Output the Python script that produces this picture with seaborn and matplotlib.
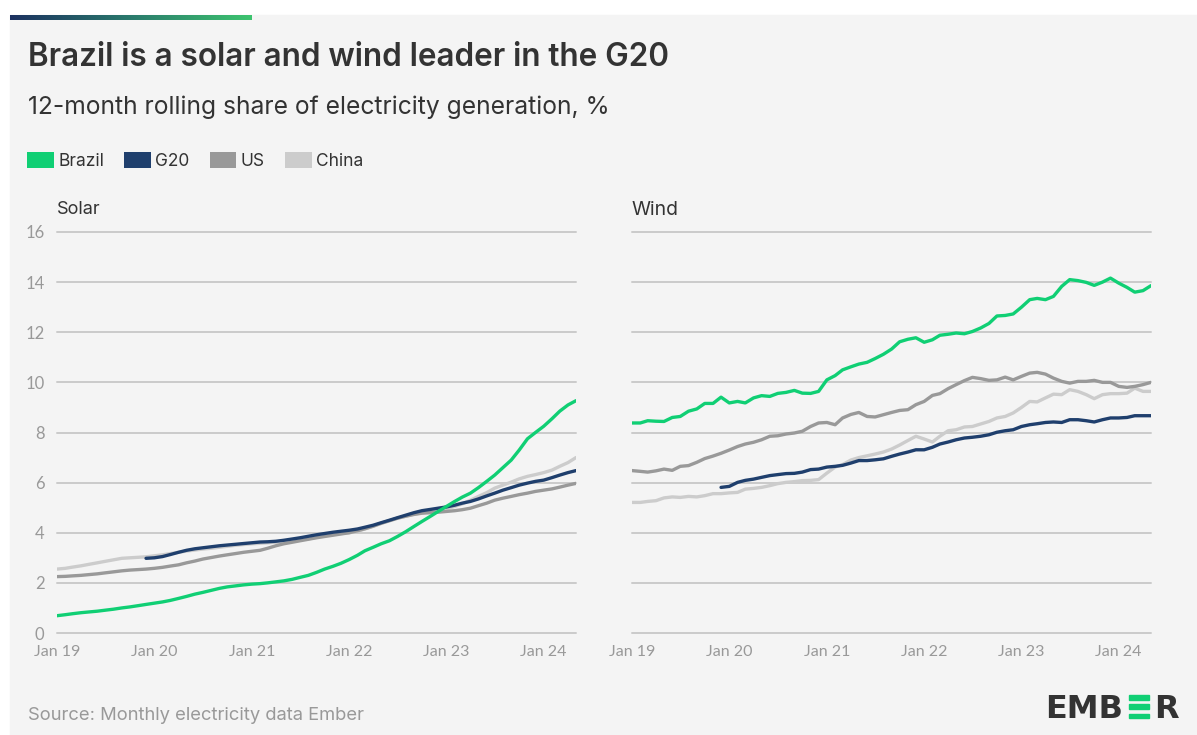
import numpy as np
import pandas as pd
import matplotlib
matplotlib.use("Agg")
import matplotlib.pyplot as plt
import matplotlib.dates as mdates
from matplotlib.patches import Rectangle, Patch
from matplotlib.colors import LinearSegmentedColormap
import seaborn as sns

# monthly points, Jan 2019 - May 2024
dates = pd.date_range("2019-01-01", "2024-05-01", freq="MS")
countries = ["Brazil", "G20", "US", "China"]
colors = {"Brazil": "#10cf74", "G20": "#1f3f6d", "US": "#999999", "China": "#cccccc"}

solar_brazil = [0.69, 0.73, 0.77, 0.81, 0.84, 0.87, 0.91, 0.95, 1.00, 1.04, 1.09, 1.14,
                1.19, 1.24, 1.30, 1.38, 1.46, 1.55, 1.62, 1.70, 1.78, 1.84, 1.88, 1.92,
                1.95, 1.97, 2.00, 2.04, 2.08, 2.14, 2.22, 2.30, 2.42, 2.55, 2.66, 2.78,
                2.93, 3.10, 3.28, 3.42, 3.56, 3.68, 3.85, 4.04, 4.25, 4.45, 4.65, 4.85,
                5.05, 5.25, 5.42, 5.58, 5.80, 6.05, 6.30, 6.60, 6.90, 7.30, 7.75, 8.00,
                8.25, 8.55, 8.85, 9.10, 9.27]
solar_g20 = [np.nan] * 11 + [
                2.98, 3.00, 3.05, 3.13, 3.22, 3.30, 3.36, 3.40, 3.44, 3.48, 3.51, 3.54, 3.57,
                3.60, 3.63, 3.64, 3.66, 3.70, 3.75, 3.80, 3.86, 3.92, 3.97, 4.02, 4.06,
                4.10, 4.15, 4.22, 4.30, 4.40, 4.50, 4.60, 4.70, 4.80, 4.88, 4.93, 4.98,
                5.03, 5.10, 5.18, 5.25, 5.35, 5.47, 5.58, 5.70, 5.80, 5.90, 5.98, 6.05,
                6.10, 6.20, 6.30, 6.40, 6.48]
solar_us = [2.25, 2.26, 2.28, 2.30, 2.33, 2.36, 2.40, 2.44, 2.48, 2.51, 2.53, 2.55,
            2.58, 2.62, 2.67, 2.72, 2.80, 2.87, 2.95, 3.01, 3.07, 3.12, 3.17, 3.22,
            3.26, 3.30, 3.38, 3.48, 3.56, 3.62, 3.68, 3.74, 3.80, 3.85, 3.90, 3.95,
            4.00, 4.08, 4.16, 4.26, 4.38, 4.48, 4.58, 4.66, 4.73, 4.78, 4.80, 4.82,
            4.85, 4.88, 4.92, 4.98, 5.08, 5.18, 5.30, 5.38, 5.45, 5.52, 5.58, 5.65,
            5.70, 5.75, 5.82, 5.90, 5.97]
solar_china = [2.55, 2.58, 2.63, 2.68, 2.74, 2.80, 2.86, 2.92, 2.98, 3.00, 3.02, 3.04,
               3.08, 3.12, 3.17, 3.22, 3.27, 3.31, 3.35, 3.38, 3.42, 3.46, 3.50, 3.53,
               3.56, 3.58, 3.60, 3.62, 3.64, 3.68, 3.72, 3.76, 3.82, 3.88, 3.93, 3.97,
               4.00, 4.06, 4.15, 4.26, 4.37, 4.48, 4.58, 4.66, 4.74, 4.80, 4.84, 4.88,
               4.95, 5.05, 5.15, 5.30, 5.45, 5.60, 5.78, 5.90, 6.02, 6.15, 6.25, 6.32,
               6.40, 6.50, 6.65, 6.80, 7.00]

wind_brazil = [8.38, 8.38, 8.47, 8.45, 8.44, 8.60, 8.64, 8.85, 8.94, 9.16, 9.16, 9.41,
               9.18, 9.24, 9.18, 9.38, 9.47, 9.44, 9.56, 9.60, 9.68, 9.57, 9.56, 9.64,
               10.10, 10.27, 10.50, 10.62, 10.73, 10.80, 10.95, 11.12, 11.33, 11.62, 11.72, 11.78,
               11.60, 11.70, 11.88, 11.92, 11.97, 11.94, 12.03, 12.17, 12.35, 12.65, 12.67, 12.73,
               13.00, 13.30, 13.35, 13.30, 13.43, 13.83, 14.10, 14.06, 13.99, 13.87, 14.00, 14.16,
               13.96, 13.79, 13.60, 13.66, 13.86]
wind_g20 = [np.nan] * 11 + [
               5.81, 5.85, 6.01, 6.09, 6.14, 6.21, 6.28, 6.32, 6.36, 6.37, 6.42, 6.52, 6.54,
               6.62, 6.65, 6.69, 6.78, 6.88, 6.88, 6.91, 6.95, 7.05, 7.14, 7.22, 7.31,
               7.31, 7.41, 7.54, 7.62, 7.71, 7.78, 7.81, 7.85, 7.91, 8.01, 8.07, 8.11,
               8.24, 8.31, 8.35, 8.40, 8.42, 8.40, 8.51, 8.51, 8.47, 8.42, 8.51, 8.58,
               8.58, 8.60, 8.67, 8.67, 8.67]
wind_us = [6.48, 6.45, 6.42, 6.47, 6.54, 6.49, 6.65, 6.68, 6.81, 6.96, 7.06, 7.17,
           7.30, 7.44, 7.54, 7.61, 7.71, 7.85, 7.87, 7.94, 7.98, 8.05, 8.24, 8.38,
           8.40, 8.31, 8.58, 8.72, 8.80, 8.64, 8.62, 8.71, 8.80, 8.88, 8.91, 9.11,
           9.24, 9.48, 9.55, 9.75, 9.91, 10.07, 10.20, 10.15, 10.08, 10.10, 10.21, 10.10,
           10.24, 10.37, 10.40, 10.33, 10.17, 10.04, 9.97, 10.04, 10.04, 10.08, 10.00, 10.00,
           9.84, 9.80, 9.84, 9.91, 10.00]
wind_china = [5.21, 5.21, 5.25, 5.28, 5.39, 5.43, 5.41, 5.45, 5.43, 5.48, 5.56, 5.56,
              5.59, 5.61, 5.74, 5.77, 5.81, 5.88, 5.96, 6.01, 6.04, 6.08, 6.09, 6.12,
              6.38, 6.62, 6.72, 6.90, 7.00, 7.07, 7.14, 7.22, 7.34, 7.50, 7.68, 7.85,
              7.74, 7.62, 7.85, 8.07, 8.11, 8.22, 8.24, 8.34, 8.44, 8.58, 8.64, 8.78,
              9.00, 9.24, 9.22, 9.38, 9.53, 9.51, 9.71, 9.64, 9.51, 9.35, 9.51, 9.55,
              9.55, 9.57, 9.77, 9.64, 9.64]

y_ticks = [0, 2, 4, 6, 8, 10, 12, 14, 16]


def long_form(brazil, g20, us, china):
    parts = []
    for name, vals in zip(countries, [brazil, g20, us, china]):
        parts.append(pd.DataFrame({"date": dates, "share": vals, "country": name}))
    return pd.concat(parts, ignore_index=True).dropna()


solar = long_form(solar_brazil, solar_g20, solar_us, solar_china)
wind = long_form(wind_brazil, wind_g20, wind_us, wind_china)

sns.set_style("white")
plt.rcParams["font.family"] = ["Inter", "DejaVu Sans"]

W, H = 1197, 735
fig = plt.figure(figsize=(W / 100, H / 100), dpi=100, facecolor="white")
renderer = fig.canvas.get_renderer()


def fit_text(x, y, s, right, **kw):
    # shrink/grow the font so the text ends where it does in the reference
    t = fig.text(x / W, 1 - y / H, s, va="center", **kw)
    w = t.get_window_extent(renderer).width
    t.set_fontsize(t.get_fontsize() * (right - x) / w)
    return t


# grey card and gradient strip
fig.add_artist(Rectangle((10 / W, 0), 1, (H - 15) / H, transform=fig.transFigure,
                         color="#f4f4f4", zorder=-10))
bar_ax = fig.add_axes([10 / W, 1 - 20 / H, 242 / W, 5 / H])
cmap = LinearSegmentedColormap.from_list("ember", ["#1c3160", "#2a7a6c", "#3dc46f"])
bar_ax.imshow(np.linspace(0, 1, 256)[None, :], aspect="auto", cmap=cmap)
bar_ax.axis("off")

fit_text(28, 58, "Brazil is a solar and wind leader in the G20", 672,
         fontsize=20, fontweight="semibold", color="#333333")
fit_text(28, 107, "12-month rolling share of electricity generation, %", 612,
         fontsize=16, color="#333333")

handles = [Patch(facecolor=colors[c], edgecolor="none", label=c) for c in countries]
fig.legend(handles=handles, loc="center left", bbox_to_anchor=(27 / W, 1 - 161 / H),
           ncol=4, frameon=False, fontsize=12.5, handlelength=1.55, handleheight=1.05,
           handletextpad=0.25, columnspacing=1.15, borderpad=0, borderaxespad=0,
           labelcolor="#333333")

bottom = (H - 633) / H
height = (633 - 232) / H
ax1 = fig.add_axes([57 / W, bottom, (576 - 57) / W, height])
ax2 = fig.add_axes([632 / W, bottom, (1151 - 632) / W, height])

draw_order = ["China", "US", "G20", "Brazil"]
for ax, df in [(ax1, solar), (ax2, wind)]:
    ax.set_facecolor("none")
    for v in y_ticks:
        ax.axhline(v, color="#cacaca", lw=1.4, zorder=0, clip_on=False)
    sns.lineplot(data=df, x="date", y="share", hue="country", hue_order=draw_order,
                 palette=colors, estimator=None, linewidth=2.4, legend=False, ax=ax)
    ax.set_xlim(dates[0], dates[-1])
    ax.set_ylim(0, 16)
    ax.set_yticks(y_ticks)
    ax.set_xlabel("")
    ax.set_ylabel("")
    for s in ax.spines.values():
        s.set_visible(False)
    ax.xaxis.set_major_locator(mdates.YearLocator())
    ax.xaxis.set_major_formatter(mdates.DateFormatter("Jan %y"))
    ax.tick_params(axis="x", length=4, width=1, color="#bbbbbb", labelsize=11.5,
                   labelcolor="#999999", pad=5)
    ax.tick_params(axis="y", length=0, labelsize=12, labelcolor="#999999", pad=9)
    for lab in ax.get_xticklabels() + ax.get_yticklabels():
        lab.set_family(["Lato", "DejaVu Sans"])

ax2.set_yticklabels([])

fit_text(57, 210, "Solar", 101, fontsize=12.5, color="#333333")
fit_text(632, 210, "Wind", 679, fontsize=12.5, color="#333333")
fit_text(28, 715, "Source: Monthly electricity data Ember", 366,
         fontsize=12, color="#999999")

# EMBER logo with the green bars for the second E
logo_kw = dict(fontsize=23, fontweight="heavy", color="#333333", va="baseline",
               family=["DejaVu Sans"])
t1 = fig.text(1045 / W, 1 - 718 / H, "EMB", **logo_kw)
bb = t1.get_window_extent(renderer)
x0 = bb.x1 + 6
bar_w = 20
cap = 23
for i in range(3):
    y = (H - 718) + i * (cap - 4.5) / 2
    fig.add_artist(Rectangle((x0 / W, y / H), bar_w / W, 4.5 / H,
                             transform=fig.transFigure, color="#10cf74"))
fig.text((x0 + bar_w + 5) / W, 1 - 718 / H, "R", **logo_kw)

fig.savefig("out.png", dpi=100, facecolor="white")
